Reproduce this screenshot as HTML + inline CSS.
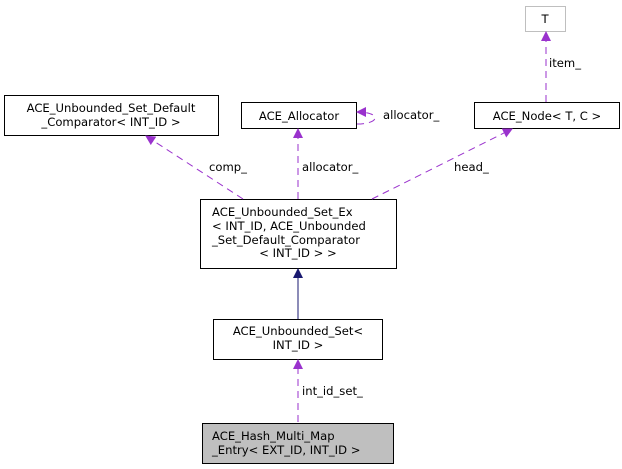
<!DOCTYPE html>
<html><head><style>body{margin:0;background:#fff}svg{display:block}text{font-family:"DejaVu Sans","Liberation Sans",sans-serif;font-size:11.6px;fill:#000}</style></head><body>
<svg width="622" height="469" viewBox="0 0 622 469">
<defs>
<marker id="p" markerWidth="10" markerHeight="10" refX="9" refY="5" orient="auto" markerUnits="userSpaceOnUse"><path d="M0,0 L10,5 L0,10 z" fill="#9a32cd"/></marker>
<marker id="b" markerWidth="10" markerHeight="10" refX="9" refY="5" orient="auto" markerUnits="userSpaceOnUse"><path d="M0,0 L10,5 L0,10 z" fill="#191970"/></marker>
</defs>
<g fill="#fff" stroke="#000" stroke-width="1">
<rect x="525.5" y="6.5" width="40" height="25" stroke="#bfbfbf"/>
<rect x="4.5" y="95.5" width="214" height="40"/>
<rect x="241.5" y="102.5" width="115" height="26"/>
<rect x="474.5" y="102.5" width="145" height="26"/>
<rect x="200.5" y="199.5" width="196" height="69"/>
<rect x="213.5" y="319.5" width="169" height="40"/>
<rect x="202.5" y="423.5" width="191" height="40" fill="#bfbfbf"/>
</g>
<g fill="none" stroke="#9a32cd" stroke-dasharray="7,5" stroke-width="1">
<path d="M546,102 L546,32" marker-end="url(#p)"/>
<path d="M243,199 L146,136" marker-end="url(#p)"/>
<path d="M298,199 L298,129" marker-end="url(#p)"/>
<path d="M372,199 L512,129" marker-end="url(#p)"/>
<path d="M357,124 C380,124 382,112 357,112" marker-end="url(#p)"/>
<path d="M298,422 L298,360" marker-end="url(#p)"/>
</g>
<path d="M298,319 L298,269" stroke="#191970" fill="none" marker-end="url(#b)"/>
<g text-anchor="middle">
<text x="545" y="23">T</text>
<text x="111" y="112">ACE_Unbounded_Set_Default</text>
<text x="111" y="126">_Comparator&lt; INT_ID &gt;</text>
<text x="299" y="120">ACE_Allocator</text>
<text x="547" y="120">ACE_Node&lt; T, C &gt;</text>
<text x="298" y="257">&lt; INT_ID &gt; &gt;</text>
<text x="298" y="335">ACE_Unbounded_Set&lt;</text>
<text x="298" y="349">INT_ID &gt;</text>
</g>
<text x="212" y="216">ACE_Unbounded_Set_Ex</text>
<text x="212" y="230">&lt; INT_ID, ACE_Unbounded</text>
<text x="212" y="244">_Set_Default_Comparator</text>
<text x="212" y="440">ACE_Hash_Multi_Map</text>
<text x="212" y="454">_Entry&lt; EXT_ID, INT_ID &gt;</text>
<text x="549" y="67">item_</text>
<text x="383" y="119">allocator_</text>
<text x="209" y="171">comp_</text>
<text x="302" y="171">allocator_</text>
<text x="454" y="171">head_</text>
<text x="302" y="395">int_id_set_</text>
</svg>
</body></html>
